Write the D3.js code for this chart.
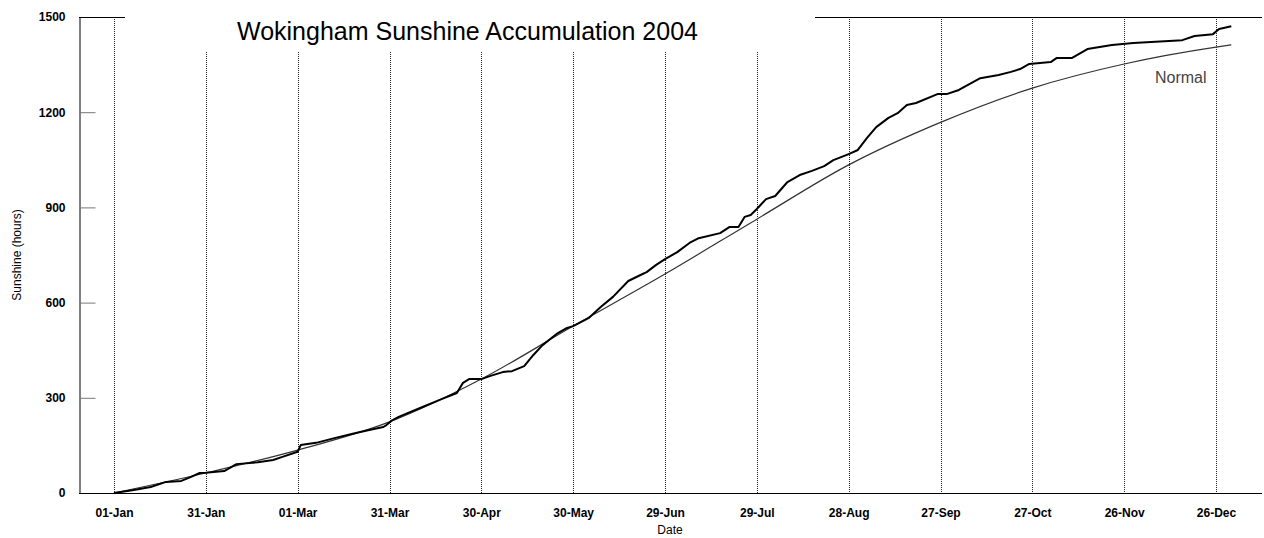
<!DOCTYPE html>
<html>
<head>
<meta charset="utf-8">
<script src="https://cdn.jsdelivr.net/npm/d3@7"></script>
<style>
  body { margin: 0; background: #fff; }
  svg { display: block; font-family: "Liberation Sans", Arial, sans-serif; }
</style>
</head>
<body>
<div id="chart"></div>
<script>

var tickLabels = ["01-Jan", "31-Jan", "01-Mar", "31-Mar", "30-Apr", "30-May", "29-Jun",
    "29-Jul", "28-Aug", "27-Sep", "27-Oct", "26-Nov", "26-Dec"];
var yTicks = [0, 300, 600, 900, 1200, 1500];

// 2004 accumulated sunshine (hours)
var actualDates = ["01-01", "01-07", "01-13", "01-18", "01-23", "01-26", "01-29", "01-31",
    "02-06", "02-10", "02-17", "02-22", "02-25", "03-01", "03-02", "03-07", "03-13", "03-20",
    "03-24", "03-29", "03-30", "04-01", "04-03", "04-10", "04-17", "04-22", "04-24", "04-26",
    "04-30", "05-03", "05-07", "05-10", "05-14", "05-17", "05-20", "05-25", "05-28", "05-30",
    "06-04", "06-08", "06-12", "06-17", "06-21", "06-23", "06-26", "06-29", "07-03", "07-07",
    "07-10", "07-17", "07-20", "07-23", "07-25", "07-27", "07-29", "08-01", "08-04", "08-08",
    "08-12", "08-16", "08-20", "08-23", "08-28", "08-31", "09-03", "09-06", "09-10", "09-13",
    "09-16", "09-19", "09-26", "09-29", "10-03", "10-10", "10-16", "10-20", "10-23", "10-26",
    "11-02", "11-04", "11-09", "11-14", "11-22", "11-29", "12-15", "12-19", "12-25", "12-27",
    "12-31"];
var actualHours = [0, 9, 19, 35, 38, 50, 63, 64,
    69, 91, 97, 104, 114, 130, 151, 158, 173, 189,
    198, 208, 214, 230, 240, 268, 296, 315, 347, 359,
    359, 369, 381, 384, 400, 435, 466, 504, 520, 526,
    551, 586, 618, 668, 687, 696, 718, 737, 759, 788,
    803, 819, 838, 838, 870, 876, 895, 926, 936, 980,
    1002, 1015, 1030, 1049, 1068, 1081, 1119, 1153, 1182, 1197,
    1223, 1229, 1257, 1257, 1270, 1307, 1317, 1327, 1336, 1352,
    1358, 1371, 1371, 1399, 1412, 1418, 1427, 1440, 1446, 1462,
    1471];

// long-term normal accumulation
var normalDates = ["01-01", "01-31", "03-01", "03-31", "04-30", "05-30", "06-29",
    "07-29", "08-28", "09-27", "10-27", "11-26", "12-26", "12-31"];
var normalHours = [0, 63, 135, 224, 359, 526, 690, 863, 1034, 1168, 1276, 1352, 1405, 1412];

var W = 1264, H = 538;
var parseDay = d3.timeParse("%m-%d-%Y");
var parseTick = d3.timeParse("%d-%b-%Y");

var actual = actualDates.map(function(d, i) { return {date: parseDay(d + "-2004"), value: actualHours[i]}; });
var normal = normalDates.map(function(d, i) { return {date: parseDay(d + "-2004"), value: normalHours[i]}; });
var tickDates = tickLabels.map(function(t) { return parseTick(t + "-2004"); });

var svg = d3.select("#chart").append("svg")
    .attr("width", W)
    .attr("height", H);

svg.append("rect").attr("width", W).attr("height", H).attr("fill", "#fff");

var x = d3.scaleTime()
    .domain([tickDates[0], tickDates[tickDates.length - 1]])
    .range([114, 1216]);

var y = d3.scaleLinear()
    .domain([0, 1500])
    .range([493, 17]);

// dotted vertical grid, shorter where the title sits
svg.append("g").selectAll("line")
    .data(tickDates)
    .enter().append("line")
    .attr("x1", function(d) { return Math.round(x(d)) + 0.5; })
    .attr("x2", function(d) { return Math.round(x(d)) + 0.5; })
    .attr("y1", function(d, i) { return (i == 0 || i >= 8) ? 17 : 52; })
    .attr("y2", 493)
    .attr("stroke", "#222")
    .attr("stroke-dasharray", "1,1");

// top frame pieces
svg.append("line").attr("x1", 79).attr("x2", 125).attr("y1", 17.5).attr("y2", 17.5).attr("stroke", "#000");
svg.append("line").attr("x1", 815).attr("x2", 1262).attr("y1", 17.5).attr("y2", 17.5).attr("stroke", "#000");

// y axis
var yAxis = svg.append("g")
    .attr("transform", "translate(79.5,0)")
    .call(d3.axisLeft(y).tickValues(yTicks).tickSize(0).tickPadding(14).tickFormat(d3.format("d")));
yAxis.select(".domain").attr("stroke", "#000");
yAxis.selectAll("text")
    .style("font-family", "Liberation Sans, Arial, sans-serif")
    .style("font-size", "12px")
    .style("font-weight", "bold")
    .attr("fill", "#000");

svg.append("g")
    .attr("transform", "translate(79.5,0)")
    .call(d3.axisRight(y).tickValues(yTicks.slice(1, -1)).tickSize(16).tickFormat(""))
    .call(function(g) {
        g.select(".domain").remove();
        g.selectAll("line").attr("stroke", "#777");
    });

// x axis
var xAxis = svg.append("g")
    .attr("transform", "translate(0,493.5)")
    .call(d3.axisBottom(x).tickValues(tickDates).tickSize(0).tickPadding(15)
        .tickFormat(function(d, i) { return tickLabels[i]; }));
xAxis.select(".domain").attr("d", "M79,0H1262").attr("stroke", "#000");
xAxis.selectAll("text")
    .style("font-family", "Liberation Sans, Arial, sans-serif")
    .style("font-size", "12px")
    .style("font-weight", "bold")
    .attr("fill", "#000");

var line = d3.line()
    .x(function(d) { return x(d.date); })
    .y(function(d) { return y(d.value); });

svg.append("path")
    .datum(normal)
    .attr("fill", "none")
    .attr("stroke", "#333")
    .attr("stroke-width", 1.2)
    .attr("d", line.curve(d3.curveMonotoneX));

svg.append("path")
    .datum(actual)
    .attr("fill", "none")
    .attr("stroke", "#000")
    .attr("stroke-width", 2)
    .attr("stroke-linejoin", "round")
    .attr("d", line.curve(d3.curveLinear));

// texts
svg.append("text")
    .attr("x", 237)
    .attr("y", 40)
    .style("font-size", "25px")
    .text("Wokingham Sunshine Accumulation 2004");

svg.append("text")
    .attr("x", 1155)
    .attr("y", 83)
    .attr("fill", "#444")
    .style("font-size", "16px")
    .text("Normal");

svg.append("text")
    .attr("x", 670)
    .attr("y", 534)
    .attr("text-anchor", "middle")
    .style("font-size", "12px")
    .text("Date");

svg.append("text")
    .attr("transform", "translate(21,255) rotate(-90)")
    .attr("text-anchor", "middle")
    .style("font-size", "12px")
    .text("Sunshine (hours)");

</script>
</body>
</html>
